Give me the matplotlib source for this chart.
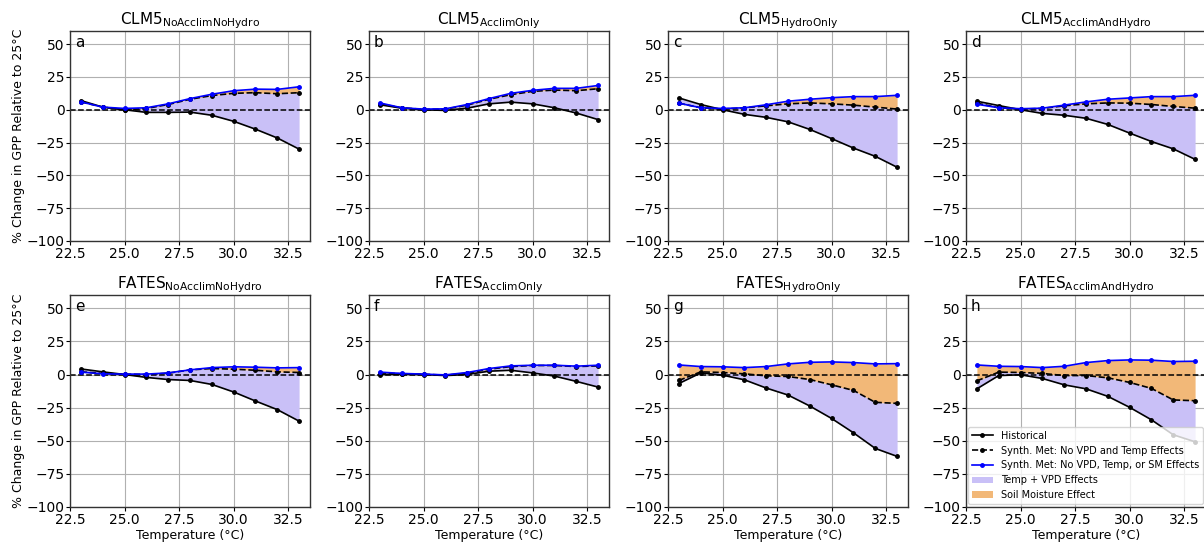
import numpy as np
import matplotlib
matplotlib.use('Agg')
import matplotlib.pyplot as plt

plt.rcParams.update({
    'font.family': 'DejaVu Sans',
    'font.size': 10,
    'axes.edgecolor': '#333333',
    'axes.linewidth': 1.0,
})

temps = [23, 24, 25, 26, 27, 28, 29, 30, 31, 32, 33]

titles = [r'CLM5$_{\mathrm{NoAcclimNoHydro}}$', r'CLM5$_{\mathrm{AcclimOnly}}$',
          r'CLM5$_{\mathrm{HydroOnly}}$', r'CLM5$_{\mathrm{AcclimAndHydro}}$',
          r'FATES$_{\mathrm{NoAcclimNoHydro}}$', r'FATES$_{\mathrm{AcclimOnly}}$',
          r'FATES$_{\mathrm{HydroOnly}}$', r'FATES$_{\mathrm{AcclimAndHydro}}$']
letters = ['a', 'b', 'c', 'd', 'e', 'f', 'g', 'h']

# historical run
hist = [
    [7, 2, 0, -2, -2, -1.8, -4.2, -8.8, -14.8, -21.5, -30],
    [3.8, 1.2, 0, -0.5, 1.2, 4.5, 5.8, 4.5, 1.5, -2.5, -7.5],
    [9, 4, 0, -3.5, -5.8, -9.2, -15, -22, -29.2, -35.5, -43.8],
    [6.5, 3.2, 0, -2.8, -4.2, -6.5, -11.2, -17.8, -24.2, -29.8, -37.8],
    [4.2, 2, 0, -2.2, -3.8, -4.5, -7.5, -13.2, -20, -26.5, -35.2],
    [0, 0.2, 0, -0.8, 0, 2.5, 3.2, 1.2, -1.2, -5.2, -9.5],
    [-6.8, 1.2, -0.5, -4, -10.2, -15.5, -23.8, -33.2, -44, -55.8, -61.8],
    [-10.8, -0.8, -0.2, -3, -7.8, -10.8, -16.5, -24.8, -34.2, -45.5, -50.8],
]

# synthetic met: no VPD and temp effects
no_vpd_temp = [
    [6, 2, 0, 1, 4, 8, 10.8, 12.5, 13, 12.2, 13],
    [4.5, 1.5, 0.3, 0.5, 3.5, 8, 11.5, 14, 15, 14.5, 16],
    [5, 1.5, 0.5, 1.5, 3, 4.5, 5.2, 4.5, 3.5, 2, 0.5],
    [5, 1.5, 0.5, 1, 3, 4.5, 5.2, 5, 4, 2.5, 1.2],
    [2, 0.8, 0.3, 0, 1, 3.5, 4.5, 4, 3.2, 2, 1.5],
    [1.2, 0.5, 0.2, -0.5, 1, 4, 6, 6.8, 6.8, 6, 6.5],
    [-4.5, 2, 1.5, 0.5, -1, -1.5, -3.8, -7.8, -12, -21, -21.8],
    [-4.8, 1.8, 1.5, 0.8, -0.8, -0.8, -2.5, -6, -10.5, -19.2, -19.8],
]

# synthetic met: no VPD, temp or soil moisture effects
no_vpd_temp_sm = [
    [6, 2, 1, 1.5, 4.5, 8.5, 11.8, 14.5, 15.7, 15.5, 17.5],
    [5.2, 1.5, 0.5, 0.7, 4, 8.5, 12.5, 14.8, 16.3, 16.3, 18.5],
    [5, 1.5, 1, 1.5, 3.8, 6.5, 8, 9.2, 10, 10, 11],
    [4.2, 1.5, 0.8, 1.2, 3.5, 6, 8, 9, 10, 10, 11],
    [1.8, 0.5, 0.3, 0.3, 1.2, 3.5, 5.2, 5.8, 5.5, 5, 5.2],
    [1.8, 0.8, 0.3, -0.3, 1.5, 4.5, 6.5, 7, 7, 6.3, 7],
    [7.2, 6, 5.8, 5.2, 6, 8, 9.2, 9.5, 9, 8, 8.2],
    [7.2, 6.2, 6, 5.2, 6.2, 9, 10.5, 11, 10.8, 9.8, 10],
]

purple = '#c9c0f7'
orange = '#f2b878'

W, H = 1204, 546
fig = plt.figure(figsize=(W / 100, H / 100), dpi=100)

lefts = [70, 369, 668, 966]
rows = [(241, 210), (507, 212)]  # (bottom pixel from top, height)

for i in range(8):
    r, c = divmod(i, 4)
    bot, h = rows[r]
    ax = fig.add_axes([lefts[c] / W, (H - bot) / H, 240 / W, h / H])

    ax.fill_between(temps, hist[i], no_vpd_temp[i], color=purple, lw=0,
                    label='Temp + VPD Effects', zorder=1)
    ax.fill_between(temps, no_vpd_temp[i], no_vpd_temp_sm[i], color=orange, lw=0,
                    label='Soil Moisture Effect', zorder=1)
    ax.plot(temps, hist[i], color='black', marker='.', ms=5, lw=1.2,
            label='Historical', zorder=3)
    ax.plot(temps, no_vpd_temp[i], color='black', ls='--', marker='.', ms=5, lw=1.2,
            label='Synth. Met: No VPD and Temp Effects', zorder=3)
    ax.plot(temps, no_vpd_temp_sm[i], color='blue', marker='.', ms=5, lw=1.2,
            label='Synth. Met: No VPD, Temp, or SM Effects', zorder=3)
    ax.axhline(0, color='black', ls='--', lw=1.1, zorder=2)

    ax.set_ylim(-100, 60)
    ax.set_xlim(22.5, 33.5)
    ax.set_yticks([-100, -75, -50, -25, 0, 25, 50])
    ax.set_xticks([22.5, 25.0, 27.5, 30.0, 32.5])
    ax.grid(True, color='#b0b0b0', lw=0.8, zorder=0)
    ax.set_axisbelow(True)
    ax.tick_params(labelsize=10, length=3, pad=1)
    ax.set_title(titles[i], fontsize=11, pad=4)
    ax.text(0.02, 0.98, letters[i], transform=ax.transAxes, fontsize=11,
            ha='left', va='top')

    if c == 0:
        ax.set_ylabel('% Change in GPP Relative to 25°C', fontsize=9, labelpad=1)
    if r == 1:
        ax.set_xlabel('Temperature (°C)', fontsize=9, labelpad=2)

    if i == 7:
        handles, labels = ax.get_legend_handles_labels()
        order = [2, 3, 4, 0, 1]
        ax.legend([handles[k] for k in order], [labels[k] for k in order],
                  loc='lower right', fontsize=7, framealpha=0.8,
                  borderaxespad=0.3, handlelength=2.2)

fig.savefig('out.png', dpi=100)
